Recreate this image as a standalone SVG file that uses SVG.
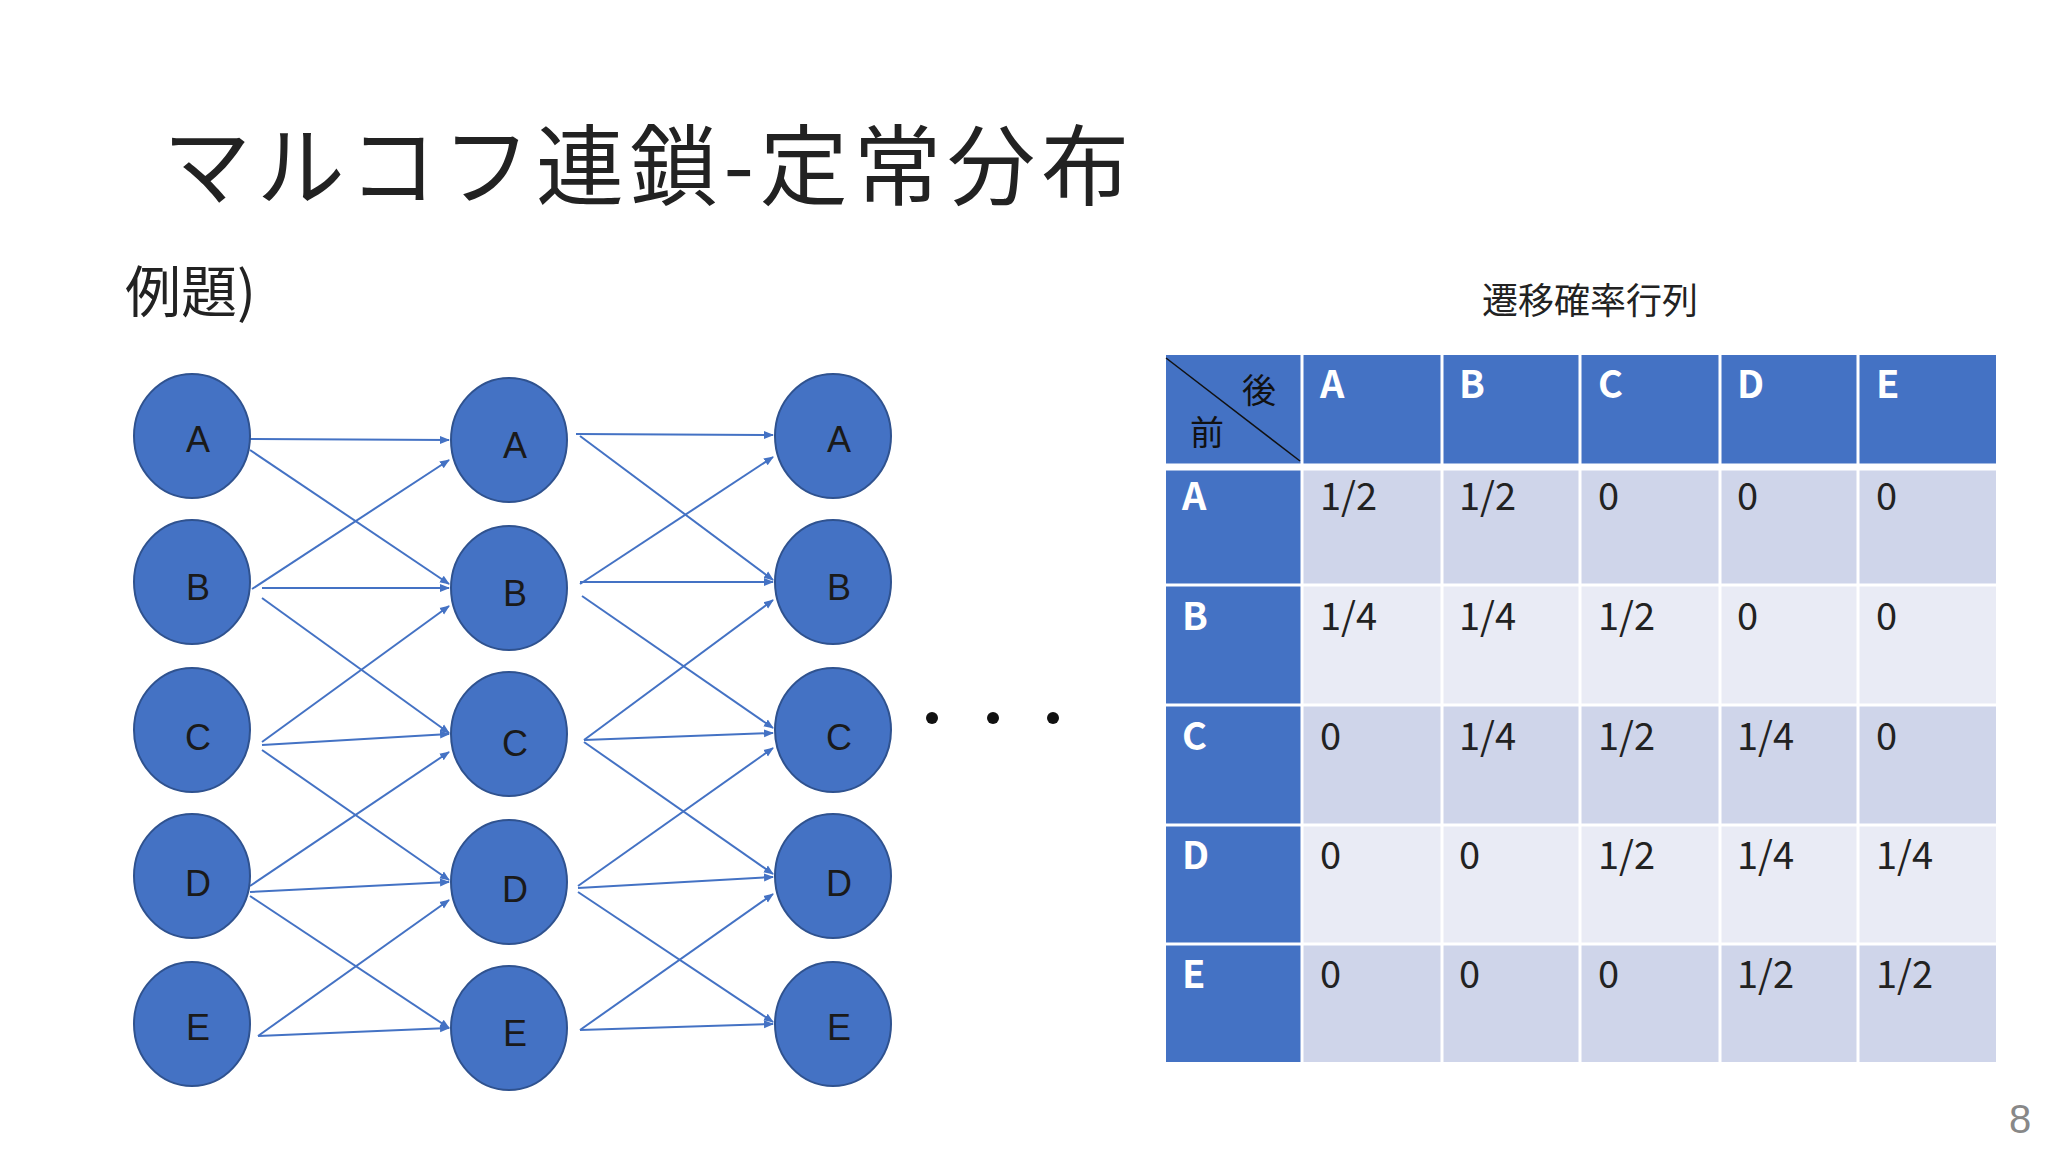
<svg xmlns="http://www.w3.org/2000/svg" width="2048" height="1152" viewBox="0 0 2048 1152">
<defs>
<style>
.n ellipse{fill:#4472C4;stroke:#2F528F;stroke-width:2}
.n text{font-family:"Liberation Sans","Noto Sans CJK JP",sans-serif;font-size:36px;fill:#1a1a1a;text-anchor:middle}
.e line{stroke:#4472C4;stroke-width:2;marker-end:url(#ah)}
.h{fill:#4472C4}
.r1{fill:#CFD5EA}.r2{fill:#E9EBF5}
.hl{font-family:"Noto Sans CJK JP",sans-serif;font-weight:bold;font-size:38px;fill:#fff}
.v{font-family:"Noto Sans CJK JP",sans-serif;font-size:38px;fill:#222}
</style>
<marker id="ah" markerWidth="10" markerHeight="10" refX="9" refY="5" orient="auto" markerUnits="userSpaceOnUse"><path d="M0,1 L10,5 L0,9 z" fill="#4472C4"/></marker>
</defs>
<rect width="2048" height="1152" fill="#fff"/>
<text x="163" y="198" font-family="Noto Sans CJK JP,sans-serif" font-size="88" fill="#222" textLength="966">マルコフ連鎖-定常分布</text>
<text x="125" y="312" font-family="Noto Sans CJK JP,sans-serif" font-size="56" fill="#222">例題)</text>
<text x="1590" y="314" font-family="Noto Sans CJK JP,sans-serif" font-size="36" fill="#222" text-anchor="middle">遷移確率行列</text>
<text x="2020" y="1133" font-family="Liberation Sans,sans-serif" font-size="40" fill="#888" text-anchor="middle">8</text>
<g id="connectors" class="e">
<line x1="250" y1="439" x2="449" y2="440"/><line x1="250" y1="450" x2="449" y2="584"/>
<line x1="252" y1="589" x2="449" y2="460"/><line x1="262" y1="588" x2="449" y2="588"/><line x1="262" y1="598" x2="449" y2="733"/>
<line x1="262" y1="742" x2="449" y2="606"/><line x1="262" y1="745" x2="449" y2="734"/><line x1="262" y1="750" x2="449" y2="880"/>
<line x1="250" y1="886" x2="449" y2="752"/><line x1="250" y1="892" x2="449" y2="882"/><line x1="250" y1="896" x2="449" y2="1028"/>
<line x1="258" y1="1036" x2="449" y2="900"/><line x1="258" y1="1036" x2="449" y2="1028"/>
<line x1="576" y1="434" x2="773" y2="435"/><line x1="580" y1="436" x2="773" y2="580"/>
<line x1="580" y1="584" x2="773" y2="457"/><line x1="580" y1="582" x2="773" y2="582"/><line x1="582" y1="596" x2="773" y2="728"/>
<line x1="584" y1="740" x2="773" y2="600"/><line x1="584" y1="740" x2="773" y2="733"/><line x1="584" y1="742" x2="773" y2="874"/>
<line x1="578" y1="886" x2="773" y2="748"/><line x1="578" y1="888" x2="773" y2="877"/><line x1="578" y1="892" x2="773" y2="1022"/>
<line x1="580" y1="1030" x2="773" y2="894"/><line x1="580" y1="1030" x2="773" y2="1024"/>
</g>
<g id="a1" class="n"><ellipse cx="192" cy="436" rx="58" ry="62"/><text x="198" y="452">A</text></g>
<g id="b1" class="n"><ellipse cx="192" cy="582" rx="58" ry="62"/><text x="198" y="600">B</text></g>
<g id="c1" class="n"><ellipse cx="192" cy="730" rx="58" ry="62"/><text x="198" y="750">C</text></g>
<g id="d1" class="n"><ellipse cx="192" cy="876" rx="58" ry="62"/><text x="198" y="896">D</text></g>
<g id="e1" class="n"><ellipse cx="192" cy="1024" rx="58" ry="62"/><text x="198" y="1040">E</text></g>
<g id="a2" class="n"><ellipse cx="509" cy="440" rx="58" ry="62"/><text x="515" y="458">A</text></g>
<g id="b2" class="n"><ellipse cx="509" cy="588" rx="58" ry="62"/><text x="515" y="606">B</text></g>
<g id="c2" class="n"><ellipse cx="509" cy="734" rx="58" ry="62"/><text x="515" y="756">C</text></g>
<g id="d2" class="n"><ellipse cx="509" cy="882" rx="58" ry="62"/><text x="515" y="902">D</text></g>
<g id="e2" class="n"><ellipse cx="509" cy="1028" rx="58" ry="62"/><text x="515" y="1046">E</text></g>
<g id="a3" class="n"><ellipse cx="833" cy="436" rx="58" ry="62"/><text x="839" y="452">A</text></g>
<g id="b3" class="n"><ellipse cx="833" cy="582" rx="58" ry="62"/><text x="839" y="600">B</text></g>
<g id="c3" class="n"><ellipse cx="833" cy="730" rx="58" ry="62"/><text x="839" y="750">C</text></g>
<g id="d3" class="n"><ellipse cx="833" cy="876" rx="58" ry="62"/><text x="839" y="896">D</text></g>
<g id="e3" class="n"><ellipse cx="833" cy="1024" rx="58" ry="62"/><text x="839" y="1040">E</text></g>
<g fill="#111"><circle cx="932" cy="718" r="6"/><circle cx="993" cy="718" r="6"/><circle cx="1053" cy="718" r="6"/></g>
<g id="table">
<rect x="1166" y="355" width="830" height="110" class="h"/>
<rect x="1166" y="465" width="136" height="597" class="h"/>
<rect x="1302" y="465" width="694" height="120" class="r1"/>
<rect x="1302" y="585" width="694" height="120" class="r2"/>
<rect x="1302" y="705" width="694" height="120" class="r1"/>
<rect x="1302" y="825" width="694" height="119" class="r2"/>
<rect x="1302" y="944" width="694" height="118" class="r1"/>
<g stroke="#fff" stroke-width="3">
<line x1="1302" y1="355" x2="1302" y2="1062"/><line x1="1442" y1="355" x2="1442" y2="1062"/><line x1="1580" y1="355" x2="1580" y2="1062"/><line x1="1720" y1="355" x2="1720" y2="1062"/><line x1="1858" y1="355" x2="1858" y2="1062"/>
<line x1="1166" y1="467" x2="1996" y2="467" stroke-width="7"/>
<line x1="1166" y1="585" x2="1996" y2="585"/><line x1="1166" y1="705" x2="1996" y2="705"/><line x1="1166" y1="825" x2="1996" y2="825"/><line x1="1166" y1="944" x2="1996" y2="944"/>
</g>
<line x1="1166" y1="358" x2="1300" y2="461" stroke="#111" stroke-width="1.5"/>
<text x="1242" y="403" font-family="Noto Sans CJK JP,sans-serif" font-size="34" fill="#111">後</text>
<text x="1190" y="445" font-family="Noto Sans CJK JP,sans-serif" font-size="34" fill="#111">前</text>
<g class="hl"><text x="1320" y="398">A</text><text x="1459" y="398">B</text><text x="1598" y="398">C</text><text x="1737" y="398">D</text><text x="1876" y="398">E</text>
<text x="1182" y="510">A</text><text x="1182" y="630">B</text><text x="1182" y="750">C</text><text x="1182" y="869">D</text><text x="1182" y="988">E</text></g>
<g class="v">
<text x="1320" y="510">1/2</text><text x="1459" y="510">1/2</text><text x="1598" y="510">0</text><text x="1737" y="510">0</text><text x="1876" y="510">0</text>
<text x="1320" y="630">1/4</text><text x="1459" y="630">1/4</text><text x="1598" y="630">1/2</text><text x="1737" y="630">0</text><text x="1876" y="630">0</text>
<text x="1320" y="750">0</text><text x="1459" y="750">1/4</text><text x="1598" y="750">1/2</text><text x="1737" y="750">1/4</text><text x="1876" y="750">0</text>
<text x="1320" y="869">0</text><text x="1459" y="869">0</text><text x="1598" y="869">1/2</text><text x="1737" y="869">1/4</text><text x="1876" y="869">1/4</text>
<text x="1320" y="988">0</text><text x="1459" y="988">0</text><text x="1598" y="988">0</text><text x="1737" y="988">1/2</text><text x="1876" y="988">1/2</text>
</g>
</g>
</svg>
